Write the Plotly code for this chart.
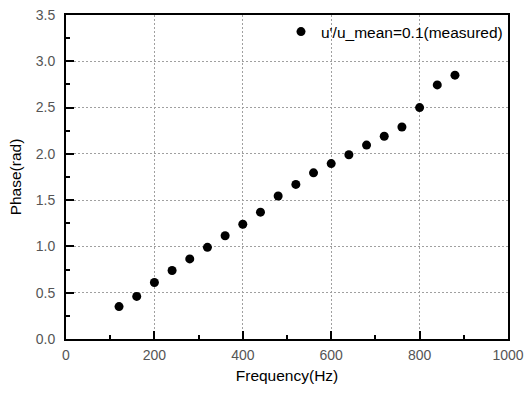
import plotly.graph_objects as go

freq = [120, 160, 200, 240, 280, 320, 360, 400, 440, 480,
        520, 560, 600, 640, 680, 720, 760, 800, 840, 880]
phase = [0.35, 0.46, 0.61, 0.74, 0.865, 0.99, 1.115, 1.24, 1.37, 1.545,
         1.67, 1.795, 1.895, 1.99, 2.095, 2.19, 2.29, 2.50, 2.745, 2.85]
series_name = "u'/u_mean=0.1(measured)"
x_ticks = [0, 200, 400, 600, 800, 1000]
y_ticks = [0.0, 0.5, 1.0, 1.5, 2.0, 2.5, 3.0, 3.5]

FONT = "Arial, Liberation Sans, sans-serif"

fig = go.Figure()
fig.add_trace(go.Scatter(
    x=freq, y=phase, mode="markers", name=series_name,
    marker=dict(color="black", size=9, line=dict(width=0)),
    showlegend=True,
))

axis_common = dict(
    showline=True, linecolor="black", linewidth=2, mirror=True,
    ticks="inside", ticklen=8, tickwidth=1.5, tickcolor="black",
    showgrid=True, gridcolor="#a0a0a0", griddash="2px,2px", gridwidth=1,
    zeroline=False,
    tickfont=dict(family=FONT, size=14, color="#555555"),
)

fig.update_xaxes(
    **axis_common,
    range=[0, 1000], tickvals=x_ticks, ticktext=[str(v) for v in x_ticks],
    minor=dict(ticks="inside", ticklen=4, tickwidth=1.5, tickcolor="black",
               dtick=100, showgrid=False),
    title=dict(text="Frequency(Hz)", font=dict(family=FONT, size=15.5, color="black"), standoff=8),
    ticklabelstandoff=2,
)
fig.update_yaxes(
    **axis_common,
    range=[0, 3.5], tickvals=y_ticks, ticktext=[f"{v:.1f}" for v in y_ticks],
    minor=dict(ticks="inside", ticklen=4, tickwidth=1.5, tickcolor="black",
               dtick=0.25, showgrid=False),
    title=dict(text="Phase(rad)", font=dict(family=FONT, size=15.5, color="black"), standoff=10),
    ticklabelstandoff=6,
)

fig.update_layout(
    width=531, height=395,
    margin=dict(l=66, r=23, t=15, b=56, autoexpand=False),
    paper_bgcolor="white", plot_bgcolor="white",
    font=dict(family=FONT, size=14, color="black"),
    legend=dict(x=1, y=1, xanchor="right", yanchor="top",
                bgcolor="rgba(0,0,0,0)", borderwidth=0,
                font=dict(family=FONT, size=15.5, color="black"),
                itemwidth=30, tracegroupgap=0),
)

fig.write_html("out.html", config={"displayModeBar": False},
               post_script="document.body.style.margin='0';document.body.style.overflow='hidden';")
